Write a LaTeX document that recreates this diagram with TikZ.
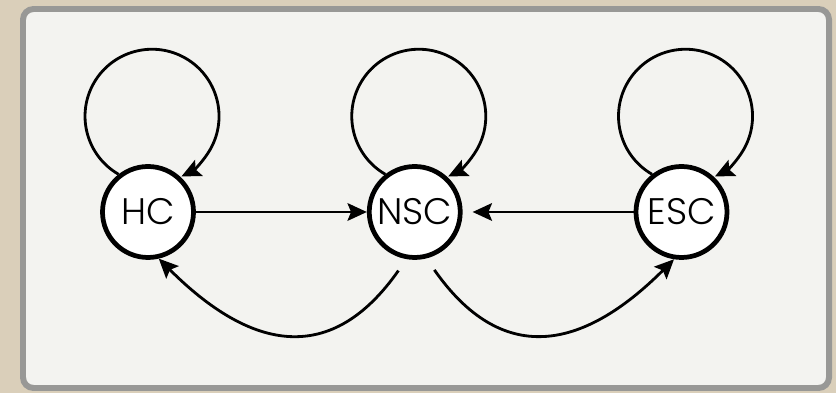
\documentclass[tikz,border=0pt]{standalone}
\usepackage{fontspec}
\setsansfont{Poppins Light}
\usepackage{tikz}
\usetikzlibrary{arrows.meta,positioning,calc}

\definecolor{linen}{RGB}{218,207,186}
\definecolor{panelfill}{RGB}{243,243,240}
\definecolor{panelrim}{RGB}{152,152,150}

\begin{document}
\begin{tikzpicture}[
    state/.style={circle, draw=black, fill=white, line width=2.7pt, minimum size=1.82cm, inner sep=0pt, font=\sffamily\fontsize{21}{24}\selectfont},
    link/.style={->, >={Stealth[length=11pt,width=10pt,inset=2pt]}, line width=1.6pt, black},
    node distance=3.42cm
]

% backdrop and panel
\fill[linen] (0,0) rectangle (16.72,7.86);
\useasboundingbox (0,0) rectangle (16.72,7.86);
\draw[panelrim, fill=panelfill, line width=3.4pt, rounded corners=6pt] (0.46,0.10) rectangle (16.58,7.68);

% states
\node[state] (hc) at (2.96,3.62) {HC};
\node[state, right=of hc] (nsc) {NSC};
\node[state, right=of nsc] (esc) {ESC};

% self loops
\foreach \s in {hc,nsc,esc}
    \draw[link] (\s.128) arc[start angle=240, end angle=-64, radius=1.34cm];

% straight transitions
\draw[link] (hc) -- (nsc);
\draw[link, shorten >=0.2cm] (esc) -- (nsc);

% bottom transitions
\draw[link, shorten <=0.28cm] (nsc.-100) to[out=-125, in=-45, looseness=1.35] (hc.-77);
\draw[link, shorten <=0.28cm] (nsc.-76) to[out=-55, in=-135, looseness=1.35] (esc.-99);

\end{tikzpicture}
\end{document}
